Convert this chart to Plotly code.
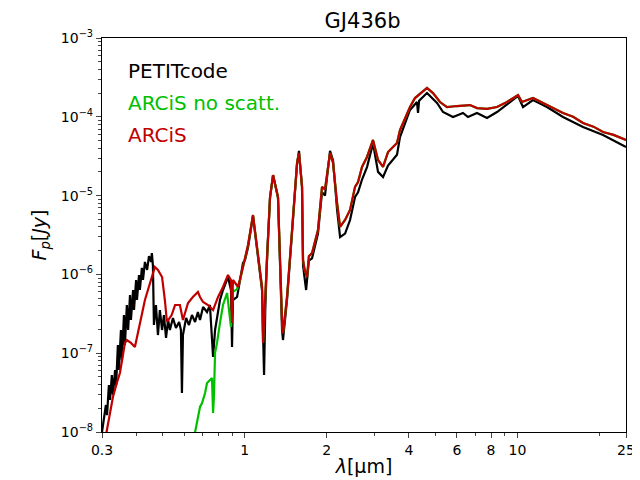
import plotly.graph_objects as go

# PETITcode spectrum (wavelength in micron, flux in Jy)
pet_wl = [0.300, 0.305, 0.310, 0.313, 0.318, 0.321, 0.326, 0.329, 0.335, 0.338,
          0.343, 0.346, 0.352, 0.355, 0.361, 0.364, 0.370, 0.374, 0.380, 0.383,
          0.390, 0.393, 0.400, 0.403, 0.410, 0.413, 0.420, 0.424, 0.431, 0.439,
          0.446, 0.454, 0.457, 0.461, 0.465, 0.473, 0.481, 0.489, 0.498, 0.506,
          0.515, 0.524, 0.532, 0.546, 0.560, 0.575, 0.584, 0.589, 0.594, 0.610,
          0.625, 0.641, 0.658, 0.674, 0.686, 0.704, 0.728, 0.746, 0.766, 0.779,
          0.799, 0.812, 0.833, 0.869, 0.891, 0.899, 0.906, 0.938, 0.962, 0.986,
          1.003, 1.029, 1.073, 1.119, 1.158, 1.178, 1.190, 1.208, 1.239, 1.271,
          1.325, 1.371, 1.382, 1.400, 1.430, 1.492, 1.556, 1.582, 1.623, 1.637,
          1.680, 1.720, 1.766, 1.857, 1.921, 1.970, 2.056, 2.109, 2.182, 2.238,
          2.334, 2.434, 2.539, 2.604, 2.693, 2.809, 2.955, 3.083, 3.216, 3.354,
          3.618, 3.710, 4.037, 4.283, 4.320, 4.360, 4.661, 5.072, 5.335, 5.804,
          6.315, 6.587, 7.107, 7.734, 8.414, 9.391, 10.05, 10.48, 11.40, 12.83,
          14.69, 17.39, 20.59, 25.0]
pet_flux = [1.0e-8, 1.42e-8, 2.2e-8, 1.64e-8, 3.95e-8, 2.55e-8, 5.29e-8, 2.95e-8, 6.12e-8, 3.95e-8,
            1.27e-7, 6.12e-8, 1.97e-7, 8.2e-8, 3.05e-7, 1.27e-7, 4.09e-7, 1.97e-7, 5.48e-7, 2.64e-7,
            6.34e-7, 3.53e-7, 8.49e-7, 4.73e-7, 9.82e-7, 6.34e-7, 1.21e-6, 8.49e-7, 1.44e-6, 1.14e-6,
            1.71e-6, 1.44e-6, 1.87e-6, 1.3e-6, 2.28e-7, 4.09e-7, 1.70e-7, 3.53e-7, 1.97e-7, 3.05e-7,
            1.56e-7, 2.64e-7, 1.97e-7, 2.80e-7, 2.09e-7, 2.49e-7, 1.97e-7, 3.13e-8, 1.70e-7, 2.80e-7,
            2.28e-7, 3.05e-7, 2.49e-7, 3.33e-7, 2.64e-7, 3.86e-7, 3.33e-7, 4.09e-7, 8.95e-8, 1.97e-7,
            3.53e-7, 4.73e-7, 6.34e-7, 9.27e-7, 6.34e-7, 1.20e-7, 4.73e-7, 5.17e-7, 8.49e-7, 1.40e-6,
            1.52e-6, 2.2e-6, 5.5e-6, 1.71e-6, 6.34e-7, 5.29e-8, 3.5e-7, 1.71e-6, 9.4e-6, 1.82e-5,
            9.4e-6, 1.97e-7, 1.47e-7, 2.28e-7, 4.73e-7, 3.4e-6, 2.5e-5, 3.7e-5, 1.3e-5, 1.3e-6,
            6.34e-7, 1.5e-6, 1.6e-6, 3.3e-6, 1.1e-5, 1.0e-5, 3.7e-5, 2.8e-5, 6.6e-6, 2.98e-6,
            3.3e-6, 4.9e-6, 9.6e-6, 1.1e-5, 1.6e-5, 2.3e-5, 4.6e-5, 2.0e-5, 1.72e-5, 2.4e-5,
            3.3e-5, 5.54e-5, 1.22e-4, 1.54e-4, 1.12e-4, 1.6e-4, 2.0e-4, 1.50e-4, 1.15e-4, 9.94e-5,
            1.12e-4, 9.94e-5, 1.12e-4, 9.66e-5, 1.15e-4, 1.54e-4, 1.84e-4, 1.33e-4, 1.63e-4, 1.33e-4,
            9.94e-5, 7.43e-5, 5.87e-5, 4.14e-5]

# ARCiS without scattering (below 1 micron; joins ARCiS beyond)
noscat_wl = [0.650, 0.686, 0.698, 0.716, 0.728, 0.746, 0.759, 0.766, 0.772, 0.779,
             0.792, 0.812, 0.833, 0.862, 0.891, 0.906, 0.938, 0.962, 0.986]
noscat_flux = [8.0e-9, 2.08e-8, 2.33e-8, 3.13e-8, 4.19e-8, 4.57e-8, 4.85e-8, 1.74e-8, 2.95e-8, 1.01e-7,
               1.35e-7, 2.42e-7, 4.09e-7, 5.81e-7, 2.15e-7, 6.0e-7, 6.5e-7, 8.49e-7, 1.24e-6]

# ARCiS with scattering
arcis_wl = [0.310, 0.321, 0.329, 0.340, 0.349, 0.358, 0.364, 0.370, 0.383, 0.396,
            0.413, 0.431, 0.450, 0.469, 0.481, 0.498, 0.510, 0.519, 0.540, 0.556,
            0.579, 0.594, 0.620, 0.646, 0.674, 0.686, 0.704, 0.734, 0.766, 0.799,
            0.833, 0.869, 0.891, 0.899, 0.906, 0.946, 0.986,
            1.003, 1.029, 1.073, 1.119, 1.158, 1.168, 1.190, 1.208, 1.239, 1.271,
            1.325, 1.371, 1.382, 1.400, 1.430, 1.492, 1.556, 1.582, 1.623, 1.637,
            1.660, 1.693, 1.720, 1.766, 1.857, 1.921, 1.970, 2.056, 2.109, 2.182,
            2.238, 2.334, 2.434, 2.539, 2.604, 2.693, 2.809, 2.955, 3.083, 3.216,
            3.354, 3.618, 3.710, 4.037, 4.211, 4.661, 4.903, 5.202, 5.518, 6.003,
            6.699, 7.107, 7.734, 8.414, 9.157, 10.05, 10.39, 11.40, 12.83, 13.6,
            14.69, 16.0, 17.39, 19.0, 20.59, 22.5, 25.0]
arcis_flux = [9.0e-9, 1.64e-8, 2.78e-8, 4.19e-8, 5.61e-8, 9.5e-8, 1.35e-7, 1.47e-7, 1.35e-7, 1.20e-7,
              2.42e-7, 4.73e-7, 7.78e-7, 1.24e-6, 1.14e-6, 9.27e-7, 4.73e-7, 2.49e-7, 3.05e-7, 4.09e-7,
              4.09e-7, 2.64e-7, 4.34e-7, 5.17e-7, 5.98e-7, 5.17e-7, 4.47e-7, 4.09e-7, 3.53e-7, 5.17e-7,
              6.92e-7, 9.82e-7, 8.5e-7, 2.42e-7, 8.5e-7, 6.92e-7, 1.24e-6,
              1.66e-6, 2.36e-6, 5.67e-6, 1.87e-6, 6.92e-7, 1.35e-7, 4.7e-7, 1.87e-6, 9.6e-6, 1.82e-5,
              9.6e-6, 2.64e-7, 1.8e-7, 2.64e-7, 5.17e-7, 3.66e-6, 2.59e-5, 3.47e-5, 1.29e-5, 1.52e-6,
              1.14e-6, 9.27e-7, 1.7e-6, 1.87e-6, 3.66e-6, 1.29e-5, 1.2e-5, 3.47e-5, 2.59e-5, 8.05e-6,
              4.0e-6, 4.9e-6, 6.57e-6, 1.29e-5, 1.49e-5, 2.31e-5, 3.09e-5, 5.08e-5, 2.83e-5, 2.31e-5,
              3.57e-5, 4.65e-5, 6.80e-5, 1.33e-4, 1.73e-4, 2.32e-4, 2.0e-4, 1.54e-4, 1.33e-4, 1.37e-4,
              1.41e-4, 1.29e-4, 1.26e-4, 1.33e-4, 1.54e-4, 1.89e-4, 1.54e-4, 1.73e-4, 1.41e-4, 1.30e-4,
              1.12e-4, 1.00e-4, 8.34e-5, 7.5e-5, 6.41e-5, 5.9e-5, 5.08e-5]

# the no-scattering model coincides with ARCiS from 1 micron on
green_wl = noscat_wl + arcis_wl[37:]
green_flux = noscat_flux + arcis_flux[37:]

x_ticks = [0.3, 1, 2, 4, 6, 8, 10, 25]
x_ticktext = ["0.3", "1", "2", "4", "6", "8", "10", "25"]
x_minor = [0.4, 0.5, 0.6, 0.7, 0.8, 0.9, 3, 5, 7, 9, 20]
y_ticks = [1e-8, 1e-7, 1e-6, 1e-5, 1e-4, 1e-3]
y_ticktext = ["10<sup>−8</sup>", "10<sup>−7</sup>", "10<sup>−6</sup>",
              "10<sup>−5</sup>", "10<sup>−4</sup>", "10<sup>−3</sup>"]
y_minor = [m * 10.0 ** e for e in range(-8, -3) for m in range(2, 10)]

font = "DejaVu Sans, sans-serif"

fig = go.Figure()
fig.add_trace(go.Scatter(x=pet_wl, y=pet_flux, mode="lines", name="PETITcode",
                         line=dict(color="black", width=2.2)))
fig.add_trace(go.Scatter(x=green_wl, y=green_flux, mode="lines", name="ARCiS no scatt.",
                         line=dict(color="#00c000", width=2.2)))
fig.add_trace(go.Scatter(x=arcis_wl, y=arcis_flux, mode="lines", name="ARCiS",
                         line=dict(color="#c00000", width=2.2)))

labels = [("PETITcode", "black"), ("ARCiS no scatt.", "#00c000"), ("ARCiS", "#c00000")]
for i, (txt, col) in enumerate(labels):
    fig.add_annotation(text=txt, xref="paper", yref="paper", x=0.045, y=0.915 - i * 0.081,
                       xanchor="left", yanchor="middle", showarrow=False,
                       font=dict(family=font, size=20, color=col))

# page body adds 8px, so the figure is 632x472
fig.update_layout(
    width=632, height=472,
    template="simple_white",
    showlegend=False,
    font=dict(family=font, size=14, color="black"),
    title=dict(text="GJ436b", x=0.561, xanchor="center", y=0.974, yanchor="middle",
               font=dict(family=font, size=21)),
    margin=dict(l=94, r=14, t=30, b=48),
    plot_bgcolor="white",
)
fig.update_xaxes(type="log", range=[-0.5229, 1.3979], automargin=False,
                 tickmode="array", tickvals=x_ticks, ticktext=x_ticktext,
                 ticks="outside", ticklen=5, tickwidth=1,
                 minor=dict(tickmode="array", tickvals=x_minor, ticks="outside", ticklen=3),
                 showline=True, linewidth=1.2, linecolor="black", mirror=True, showgrid=False,
                 title=dict(text="<i>λ</i>[μm]", font=dict(size=19), standoff=2))
fig.update_yaxes(type="log", range=[-8, -3], automargin=False,
                 tickmode="array", tickvals=y_ticks, ticktext=y_ticktext,
                 ticks="outside", ticklen=5, tickwidth=1,
                 minor=dict(tickmode="array", tickvals=y_minor, ticks="outside", ticklen=3),
                 showline=True, linewidth=1.2, linecolor="black", mirror=True, showgrid=False,
                 title=dict(text="<i>F<sub>p</sub></i>[<i>Jy</i>]", font=dict(size=19), standoff=9))

fig.write_html("out.html")
